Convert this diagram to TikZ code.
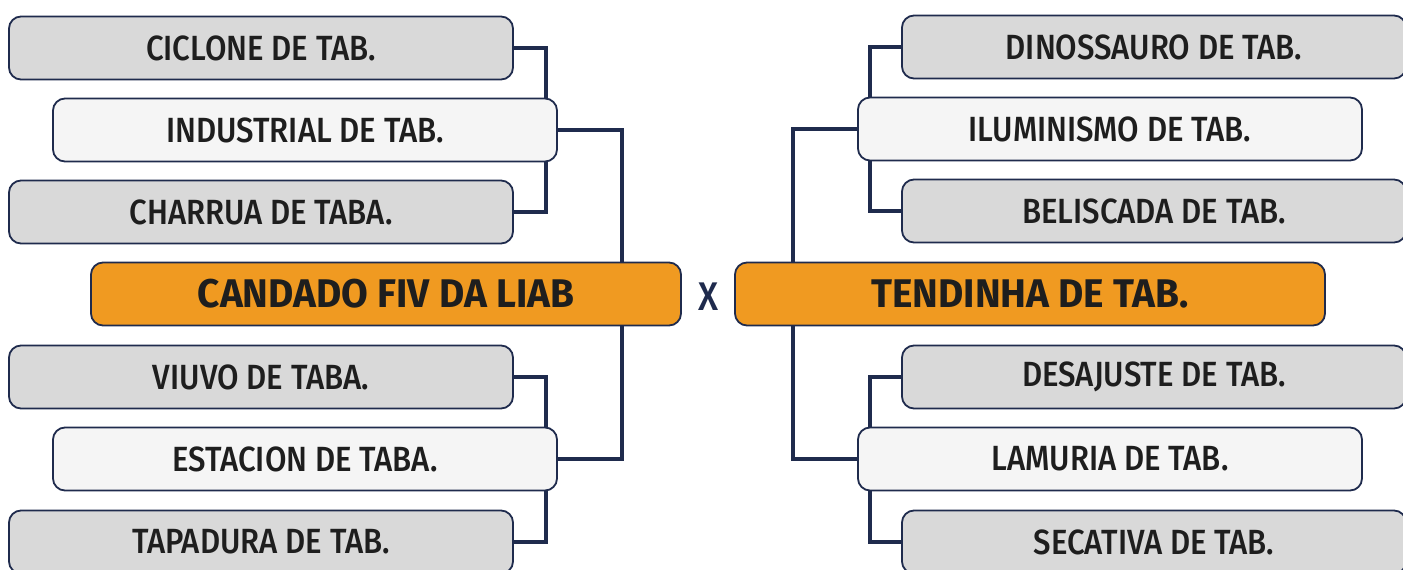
\documentclass[tikz,border=0pt]{standalone}
\usepackage{fontspec}
\setmainfont{Fira Sans Medium}[FakeStretch=0.89]
\newfontfamily\finalfont{Fira Sans Bold}[FakeStretch=0.97]
\usetikzlibrary{backgrounds}
\definecolor{navy}{HTML}{1F2B4D}
\definecolor{grayfill}{HTML}{D9D9D9}
\definecolor{lightfill}{HTML}{F5F5F5}
\definecolor{orangefill}{HTML}{F09A21}
\definecolor{txt}{HTML}{1E1E1E}
\tikzset{
  team/.style={draw=navy, line width=1.8pt, rounded corners=12pt, minimum width=504pt, minimum height=63pt, inner sep=0pt, text=txt, font=\fontsize{35}{35}\selectfont},
  seed/.style={team, fill=grayfill},
  winner/.style={team, fill=lightfill},
  final/.style={team, fill=orangefill, minimum width=590pt, font=\fontsize{40}{40}\selectfont\finalfont},
  link/.style={draw=navy, line width=4pt}
}
\begin{document}
\begin{tikzpicture}[x=1pt, y=-1pt]
\useasboundingbox (0,0) rectangle (1403,570);
\clip (0,0) rectangle (1403,570);
% left side
\node[seed]   (ciclone)    at (261,48)  {CICLONE DE TAB.};
\node[winner] (industrial) at (305,130) {INDUSTRIAL DE TAB.};
\node[seed]   (charrua)    at (261,212) {CHARRUA DE TABA.};
\node[final]  (candado)    at (386,294) {CANDADO FIV DA LIAB};
\node[seed]   (viuvo)      at (261,377) {VIUVO DE TABA.};
\node[winner] (estacion)   at (305,459) {ESTACION DE TABA.};
\node[seed]   (tapadura)   at (261,542) {TAPADURA DE TAB.};
% right side
\node[seed]   (dino)       at (1154,47)  {DINOSSAURO DE TAB.};
\node[winner] (ilumin)     at (1110,129) {ILUMINISMO DE TAB.};
\node[seed]   (belisc)     at (1154,211) {BELISCADA DE TAB.};
\node[final]  (tendinha)   at (1030,294) {TENDINHA DE TAB.};
\node[seed]   (desaj)      at (1154,377) {DESAJUSTE DE TAB.};
\node[winner] (lamuria)    at (1110,459) {LAMURIA DE TAB.};
\node[seed]   (secat)      at (1154,542) {SECATIVA DE TAB.};
% versus
\node[text=navy, font=\fontsize{40}{40}\selectfont, inner sep=0pt] (vs) at (708,297) {X};
\begin{scope}[on background layer]
\draw[link] (ciclone.east) -- ++(32,0) |- (charrua.east);
\draw[link] (viuvo.east) -- ++(32,0) |- (tapadura.east);
\draw[link] (industrial.east) -- ++(64,0) |- (estacion.east);
\draw[link] (dino.west) -- ++(-31,0) |- (belisc.west);
\draw[link] (desaj.west) -- ++(-31,0) |- (secat.west);
\draw[link] (ilumin.west) -- ++(-64,0) |- (lamuria.west);
\end{scope}
\end{tikzpicture}
\end{document}
